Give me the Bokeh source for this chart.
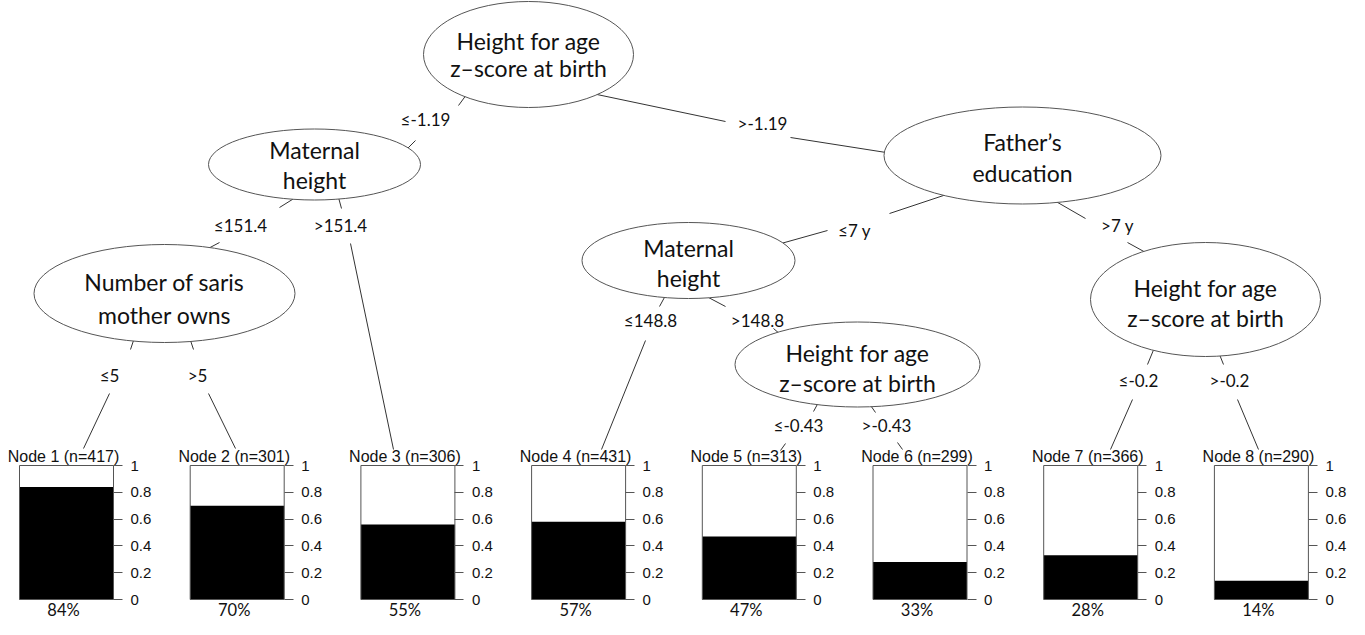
from bokeh.plotting import figure
from bokeh.models import Range1d, LinearAxis, FixedTicker, NumeralTickFormatter
from bokeh.core.properties import value
from bokeh.embed import file_html
from bokeh.resources import INLINE

# ---------------- data ----------------
split_vars = [
    ["Height for age", "z\u2013score at birth"],
    ["Maternal", "height"],
    ["Number of saris", "mother owns"],
    ["Father\u2019s", "education"],
    ["Maternal", "height"],
    ["Height for age", "z\u2013score at birth"],
    ["Height for age", "z\u2013score at birth"],
]
split_labels = ["\u2264-1.19", ">-1.19", "\u2264151.4", ">151.4", "\u22645", ">5",
                "\u22647 y", ">7 y", "\u2264148.8", ">148.8", "\u2264-0.43", ">-0.43",
                "\u2264-0.2", ">-0.2"]
leaf_ids = [1, 2, 3, 4, 5, 6, 7, 8]
leaf_n = [417, 301, 306, 431, 313, 299, 366, 290]
leaf_prop = [0.84, 0.70, 0.56, 0.58, 0.47, 0.28, 0.33, 0.14]
leaf_pct = ["84%", "70%", "55%", "57%", "47%", "33%", "28%", "14%"]
prop_ticks = [0, 0.2, 0.4, 0.6, 0.8, 1]

# ---------------- layout (reference pixel coordinates) ----------------
node_cx = [531, 317, 167, 1025, 691, 860, 1208]
node_cy = [57, 167, 296, 158, 263, 367, 302]
node_w = [210, 212, 261, 277, 213, 245, 230]
node_h = [106, 71, 98, 97, 76, 85, 114]
node_ty = [57, 167, 301, 160, 265, 370, 305]
node_gap = [27, 30, 33, 31, 30, 30, 30]

lab_x = [428, 765, 243, 343, 112, 200, 857, 1120, 653, 760, 801, 889, 1141, 1232]
lab_y = [122, 126, 228, 228, 378, 378, 233, 228, 323, 323, 428, 428, 383, 383]

seg = [
    (472, 93, 461, 108), (418, 143, 405, 156),
    (590, 95, 728, 124), (793, 140, 895, 156),
    (298, 200, 282, 210), (222, 245, 205, 254),
    (341, 200, 344, 211), (353, 246, 396, 452),
    (137, 340, 133, 352), (112, 396, 86, 451),
    (192, 340, 196, 352), (211, 396, 238, 451),
    (955, 195, 892, 216), (830, 233, 780, 247),
    (1055, 202, 1088, 221), (1130, 245, 1150, 256),
    (668, 298, 662, 309), (648, 343, 604, 452),
    (711, 300, 728, 309), (776, 331, 790, 343),
    (822, 403, 816, 414), (788, 446, 783, 453),
    (871, 405, 878, 415), (900, 445, 905, 452),
    (1157, 350, 1150, 367), (1135, 402, 1113, 452),
    (1220, 352, 1226, 367), (1240, 402, 1261, 452),
]

leaf_x0 = 69
leaf_dx = 170.7
box_w = 94
box_top_px, box_bot_px = 468, 602
title_y, pct_y = 459, 612

W, H = 1349, 619
X0, Y0 = 3, 3
p = figure(width=W, height=H, output_backend="svg", toolbar_location=None,
           x_range=Range1d(X0, X0 + W), y_range=Range1d(Y0 + H, Y0),
           x_axis_location=None, y_axis_location=None, min_border=0)
p.outline_line_color = None
p.grid.visible = False
p.background_fill_color = "white"
p.border_fill_color = "white"

# leaf proportion scale mapped onto the box area
span = box_bot_px - box_top_px
s = -(Y0 + H - box_bot_px) / span
p.extra_y_ranges = {"leaf": Range1d(s, s + H / span)}

# edges
p.segment(x0=[a[0] for a in seg], y0=[a[1] for a in seg],
          x1=[a[2] for a in seg], y1=[a[3] for a in seg],
          line_color="#333333", line_width=1)

# split labels
p.text(x=lab_x, y=lab_y, text=split_labels, text_align="center", text_baseline="middle",
       text_font=value("Lato"), text_font_size="17px", text_color="#111111")

# inner nodes
p.ellipse(x=node_cx, y=node_cy, width=node_w, height=node_h,
          fill_color="white", line_color="#555555", line_width=1)
tx, ty, tt = [], [], []
for i, lines in enumerate(split_vars):
    tx += [node_cx[i], node_cx[i]]
    ty += [node_ty[i] - node_gap[i] / 2, node_ty[i] + node_gap[i] / 2]
    tt += lines
p.text(x=tx, y=ty, text=tt, text_align="center", text_baseline="middle",
       text_font=value("Lato"), text_font_size="23px", text_color="#111111")

# leaves
centers = [leaf_x0 + leaf_dx * i for i in range(len(leaf_ids))]
p.vbar(x=centers, width=box_w, bottom=0, top=1, y_range_name="leaf",
       fill_color="white", line_color=None)
p.vbar(x=centers, width=box_w, bottom=0, top=leaf_prop, y_range_name="leaf",
       fill_color="black", line_color=None)
p.vbar(x=centers, width=box_w, bottom=0, top=1, y_range_name="leaf",
       fill_color=None, line_color="#555555", line_width=1)

titles = [f"Node {k} (n={n})" for k, n in zip(leaf_ids, leaf_n)]
p.text(x=[c - 3 for c in centers], y=[title_y] * len(centers), text=titles,
       text_align="center", text_baseline="middle",
       text_font=value("Liberation Sans"), text_font_size="16px", text_color="#111111")
p.text(x=[c - 3 for c in centers], y=[pct_y] * len(centers), text=leaf_pct,
       text_align="center", text_baseline="middle",
       text_font=value("Lato"), text_font_size="16.5px", text_color="#111111")

for c in centers:
    ax = LinearAxis(y_range_name="leaf", fixed_location=c + box_w / 2,
                    ticker=FixedTicker(ticks=prop_ticks),
                    formatter=NumeralTickFormatter(format="0.[0]"))
    ax.axis_line_color = None
    ax.major_tick_in = 0
    ax.major_tick_out = 9
    ax.major_tick_line_color = "#555555"
    ax.minor_tick_line_color = None
    ax.major_label_standoff = 8
    ax.major_label_text_font = "Liberation Sans"
    ax.major_label_text_font_size = "15px"
    ax.major_label_text_color = "#111111"
    p.add_layout(ax, "right")

open("out.html", "w").write(file_html(p, INLINE))
